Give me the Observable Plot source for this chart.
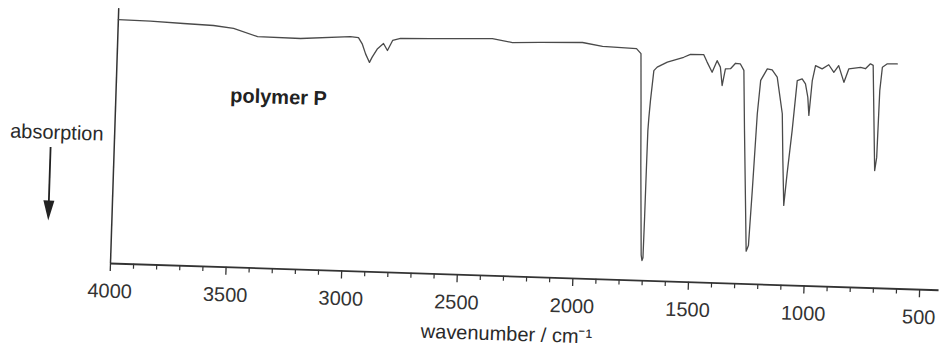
<!DOCTYPE html>
<html><head><meta charset="utf-8">
<script src="https://cdn.jsdelivr.net/npm/d3@7"></script>
<script src="https://cdn.jsdelivr.net/npm/@observablehq/plot@0.6"></script>
<style>
html,body{margin:0;padding:0;background:#fff;overflow:hidden}
#chart svg{display:block;transform-origin:110px 263px;transform:rotate(1.85deg)}
</style></head><body><div id="chart"></div>
<script>
// IR spectrum of polymer P: wavenumber (cm-1) and transmittance (%, relative to frame height)
const wavenumber = [4000,3861,3718,3588,3501,3396,3210,2995,2960,2943,2927,2909,2898,2876,2851,2833,2812,2778,2649,2476,2381,2294,2173,1991,1904,1757,1737,1730,1722,1714,1708,1704,1700,1698.5,1697.5,1696.5,1694,1689.5,1679,1665,1622,1552,1523,1466,1450,1427,1407,1392,1382,1370,1348,1327,1306,1290,1279,1265,1255,1246,1237,1226,1216,1189,1168,1145,1118,1109,1099,1089,1073,1058,1037,1022,1010,1003,993,981,952,924,901,881,856,837,786,765,744,732,721,711,704,700,692,671,628];
const transmittance = [95.7,95.5,95.0,94.6,93.7,90.8,90.6,92.0,91.7,89.3,85.4,82.1,84.2,87.6,89.7,87.0,91.0,91.9,92.2,92.7,93.0,91.7,92.1,92.6,91.3,90.9,89.0,70,45,25,10,7.9,9,25,45,58.9,64,70.7,82.5,83.9,86.0,88.1,89.3,89.4,86.5,82.6,87.2,84.7,77.5,84.1,84.2,86.4,86.2,83.7,60.2,32.7,12.9,15.1,36.7,66.9,80.0,84.6,84.3,81.5,67.2,48.9,31.3,43.7,60.8,80.4,81.1,79.2,74.0,66.9,80.6,86.5,85.3,87.0,84.1,86.8,80.3,85.6,86.4,85.9,87.9,87.3,65.7,46.1,51.3,77.5,86.7,88.1,88.2];

const majorTicks = [4000,3500,3000,2500,2000,1500,1000,500];
const minorTicks = [3900,3800,3700,3600,3400,3300,3200,3100,2900,2800,2700,2600,2400,2300,2200,2100,1900,1800,1700,1600,1400,1300,1200,1100,900,800,700,600];

const titleLabel = [{text: "polymer P", x: 3297, y: 67.3}];
const yLabel = [{text: "absorption", x: 4048, y: 50.6}];
const xLabel = [{text: "wavenumber / cm\u207B\u00B9", x: 2279, y: -22.7}];

const arrowX = [4275];
const arrowTop = [44.7];
const arrowHeadY = [20];

const spectrum = wavenumber.map((w, i) => ({w, t: transmittance[i]}));

const arrowHead = {
  draw(context, size) {
    const r = Math.sqrt(size / Math.PI);
    context.moveTo(0, r);
    context.lineTo(0.55 * r, -r);
    context.lineTo(-0.55 * r, -r);
    context.closePath();
  }
};

const font = "'Liberation Sans', Arial, Helvetica, sans-serif";

const chart = Plot.plot({
  width: 939,
  height: 348,
  marginLeft: 110,
  marginRight: 0,
  marginTop: 8,
  marginBottom: 85,
  x: {domain: [4000, 416]},
  y: {domain: [0, 100], axis: null},
  style: {fontFamily: font, fontSize: "20px", color: "#333", background: "#fff", overflow: "visible"},
  marks: [
    Plot.axisX(majorTicks, {tickSize: 8, tickPadding: 12, tickFormat: d3.format("d"), label: null, fontSize: 20, stroke: "#333", strokeWidth: 1.3, fill: "#333"}),
    Plot.axisX(minorTicks, {tickSize: 5, tickFormat: () => "", label: null, stroke: "#333", strokeWidth: 1.2}),
    Plot.ruleY([0], {stroke: "#333", strokeWidth: 1.8}),
    Plot.ruleX([4000], {stroke: "#333", strokeWidth: 1.5}),
    Plot.line(spectrum, {x: "w", y: "t", stroke: "#4a4a4a", strokeWidth: 1.3, curve: "linear"}),
    Plot.text(titleLabel, {x: "x", y: "y", text: "text", fontWeight: "bold", fontSize: 20, fill: "#222", textAnchor: "middle", lineAnchor: "middle"}),
    Plot.text(yLabel, {x: "x", y: "y", text: "text", fontSize: 20, fill: "#2a2a2a", textAnchor: "end", lineAnchor: "middle"}),
    Plot.text(xLabel, {x: "x", y: "y", text: "text", fontSize: 20, fill: "#2a2a2a", textAnchor: "middle", lineAnchor: "middle"}),
    Plot.ruleX(arrowX, {y1: arrowTop[0], y2: arrowHeadY[0], stroke: "#222", strokeWidth: 1.8}),
    Plot.dot(arrowX, {x: d => d, y: arrowHeadY[0], r: 10, symbol: arrowHead, fill: "#222", stroke: "none"})
  ]
});
document.getElementById("chart").appendChild(chart);
</script></body></html>
